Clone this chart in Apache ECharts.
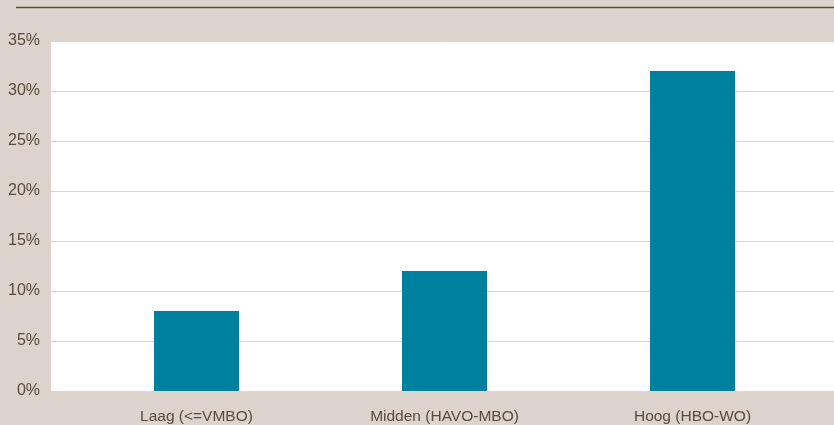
<!DOCTYPE html>
<html>
<head>
<meta charset="utf-8">
<script src="https://cdn.jsdelivr.net/npm/echarts@6/dist/echarts.min.js"></script>
<style>html,body{margin:0;padding:0;background:#dcd4cc;}#c{width:834px;height:425px;}</style>
</head>
<body>
<div id="c"></div>
<script>
var categories = ['Laag (<=VMBO)', 'Midden (HAVO-MBO)', 'Hoog (HBO-WO)'];
var values = [8, 12, 32];
var yMin = 0, yMax = 35, yStep = 5;

var chart = echarts.init(document.getElementById('c'));
var txt = '#5a4a3b';
chart.setOption({
  backgroundColor: '#dcd4cc',
  animation: false,
  graphic: [{
    type: 'line', shape: {x1: 16, y1: 7.5, x2: 834, y2: 7.5},
    style: {stroke: '#5b4a3a', lineWidth: 1.5}
  }],
  grid: [
    {left: 51, right: 0, top: 41, bottom: 34, show: true, backgroundColor: '#ffffff', borderWidth: 0},
    {left: 72.5, right: 17.5, top: 41, bottom: 34}
  ],
  xAxis: [
    {gridIndex: 0, type: 'value', show: false},
    {gridIndex: 1, type: 'category', data: categories,
     axisLine: {show: false}, axisTick: {show: false},
     axisLabel: {color: txt, fontSize: 15.5, fontFamily: 'Liberation Sans', margin: 18}}
  ],
  yAxis: [
    {gridIndex: 0, type: 'value', min: yMin, max: yMax, interval: yStep,
     axisLine: {show: false}, axisTick: {show: false},
     axisLabel: {formatter: '{value}%', color: txt, fontSize: 16, fontFamily: 'Liberation Sans', margin: 11},
     splitLine: {lineStyle: {color: '#ddd5cd', width: 1}}},
    {gridIndex: 1, type: 'value', min: yMin, max: yMax, interval: yStep, show: false, splitLine: {show: false}}
  ],
  series: [{
    type: 'bar', xAxisIndex: 1, yAxisIndex: 1, data: values,
    barWidth: 85, itemStyle: {color: '#00809f'}
  }]
});
</script>
</body>
</html>
